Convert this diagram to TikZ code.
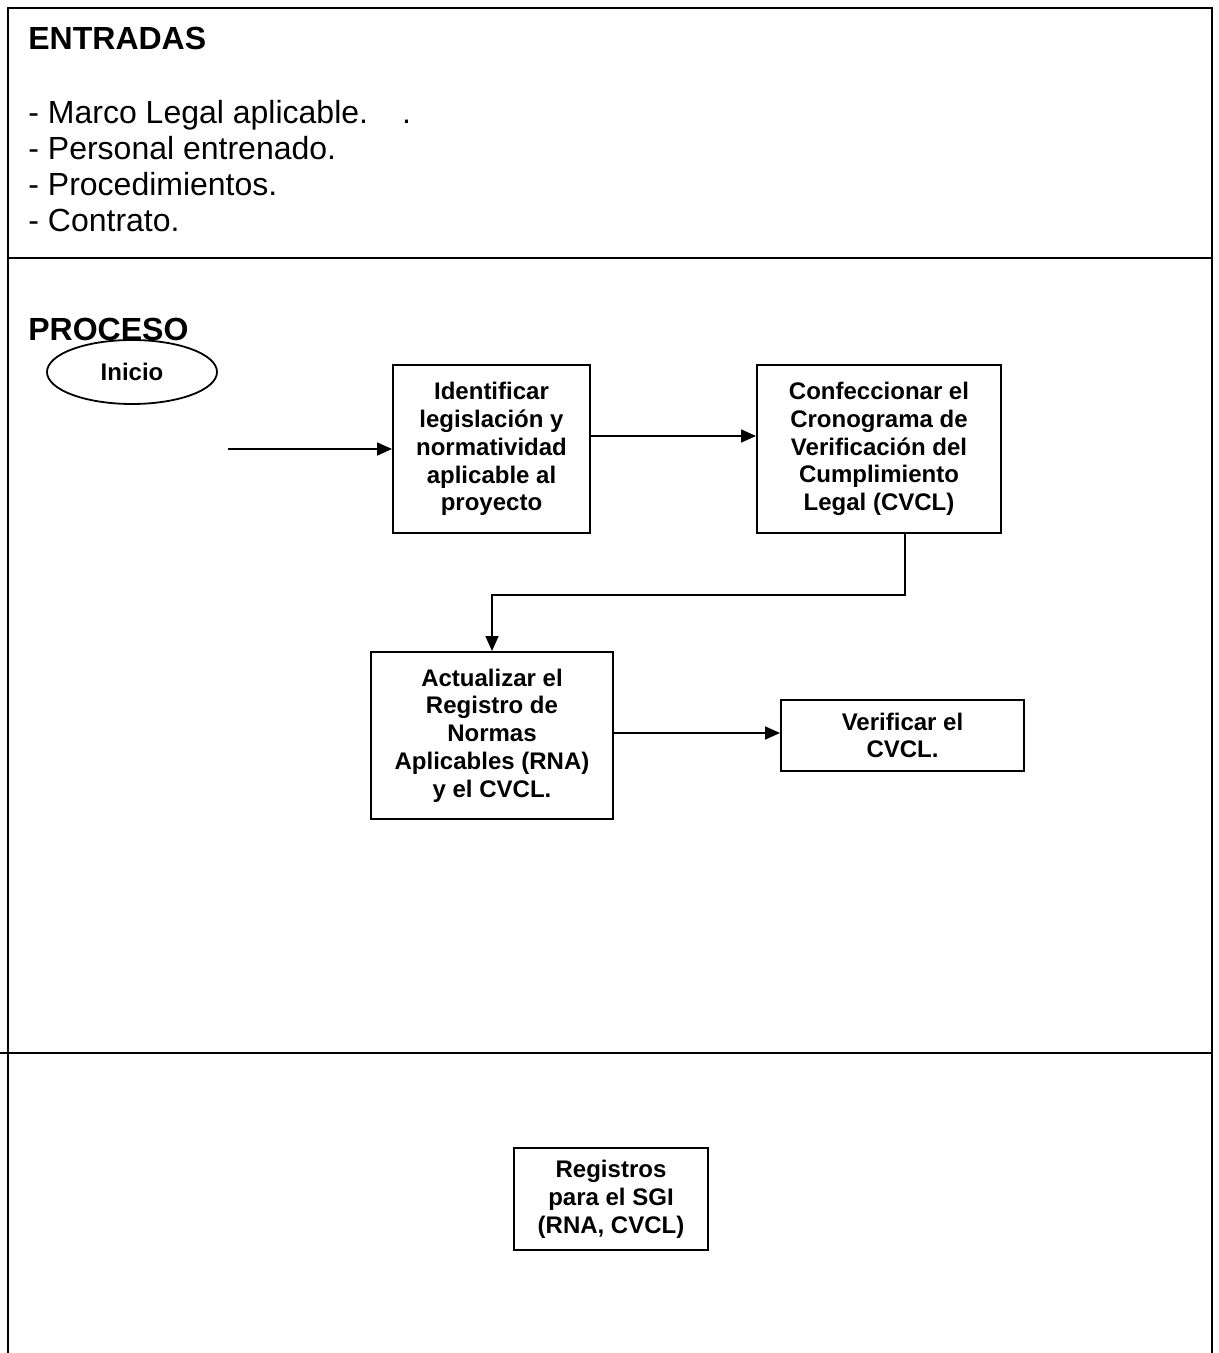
\documentclass[tikz,border=0pt]{standalone}
\usepackage{fontspec}
\setmainfont{Liberation Sans}
\usetikzlibrary{arrows.meta,shapes.geometric}
\begin{document}
\begin{tikzpicture}[x=0.5pt,y=-0.5pt,
  frame/.style={line width=1pt},
  stepbox/.style={draw,line width=1pt,rectangle,inner sep=0pt,align=center,
    font=\fontsize{12}{13.9}\selectfont\bfseries},
  startnode/.style={draw,line width=0.9pt,ellipse,inner sep=0pt,
    minimum width=85pt,minimum height=32pt,font=\fontsize{12}{13.9}\selectfont\bfseries},
  heading/.style={anchor=base west,inner sep=0pt,font=\fontsize{16}{18}\selectfont\bfseries},
  item/.style={anchor=base west,inner sep=0pt,font=\fontsize{16}{18}\selectfont},
  arr/.style={line width=0.9pt,-{Triangle[length=7.5pt,width=6.5pt]}}]
\useasboundingbox (0,0) rectangle (1219,1353);

% page frame and section dividers
\draw[frame] (8,1353) -- (8,8) -- (1212,8) -- (1212,1353);
\draw[frame] (8,258) -- (1212,258);
\draw[frame] (0,1053) -- (1212,1053);

% inputs
\node[heading] (hin) at (28,50) {ENTRADAS};
\node[item] (i1) at (28,124) {- Marco Legal aplicable.\hspace{17pt}.};
\node[item] (i2) at (28,160) {- Personal entrenado.};
\node[item] (i3) at (28,196) {- Procedimientos.};
\node[item] (i4) at (28,232) {- Contrato.};

% process
\node[heading] (hproc) at (28,341) {PROCESO};
\node[startnode] (start) at (132,372) {Inicio};
\coordinate (feed) at (228,449);

\node[stepbox,minimum width=98.5pt,minimum height=84pt] (ident) at (491.5,449)
  {Identificar\\legislación y\\normatividad\\aplicable al\\proyecto};
\node[stepbox,minimum width=122pt,minimum height=84pt] (crono) at (879,449)
  {Confeccionar el\\Cronograma de\\Verificación del\\Cumplimiento\\Legal (CVCL)};
\node[stepbox,minimum width=121pt,minimum height=83.5pt] (actual) at (492,735.5)
  {Actualizar el\\Registro de\\Normas\\Aplicables (RNA)\\y el CVCL.};
\node[stepbox,minimum width=121.5pt,minimum height=35.5pt] (verif) at (902.5,735.5)
  {Verificar el\\CVCL.};

% outputs
\node[stepbox,minimum width=97pt,minimum height=51pt] (regs) at (611,1199)
  {Registros\\para el SGI\\(RNA, CVCL)};

% connectors
\draw[arr] (feed) -- (ident.west |- feed);
\draw[arr] ([yshift=6.5pt]ident.east) -- ([yshift=6.5pt]crono.west);
\draw[arr] ([xshift=13pt]crono.south) -- ++(0,61) -| (actual.north);
\draw[arr] ([yshift=1.25pt]actual.east) -- ([yshift=1.25pt]verif.west);
\end{tikzpicture}
\end{document}
